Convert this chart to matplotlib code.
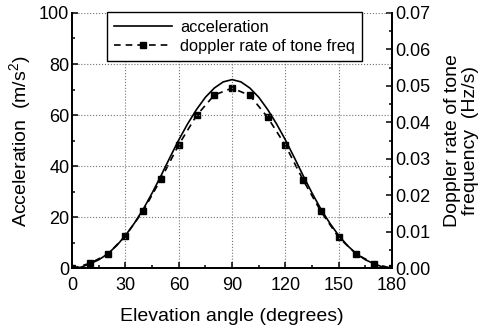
import numpy as np
import matplotlib
matplotlib.use('Agg')
import matplotlib.pyplot as plt
from matplotlib.ticker import MultipleLocator

plt.rcParams['font.family'] = ['Liberation Sans', 'DejaVu Sans']
plt.rcParams['mathtext.fontset'] = 'custom'
plt.rcParams['mathtext.rm'] = 'Liberation Sans'

# acceleration curve (m/s^2), read every 5 degrees
acc_angle = [0, 5, 10, 15, 20, 25, 30, 35, 40, 45, 50, 55, 60, 65, 70, 75, 80, 85, 90,
             95, 100, 105, 110, 115, 120, 125, 130, 135, 140, 145, 150, 155, 160, 165, 170, 175, 180]
acc = [0, 0.5, 1.8, 3.4, 5.7, 8.9, 12.9, 17.7, 23.2, 29.5, 36.3, 43.4, 50.3, 56.6, 62.2, 67.0, 70.6, 73.0, 73.9,
       73.0, 70.6, 67.0, 62.2, 56.6, 50.3, 43.4, 36.3, 29.5, 23.2, 17.7, 12.9, 8.9, 5.7, 3.4, 1.8, 0.5, 0]

# doppler rate of tone frequency (Hz/s), every 10 degrees
dop_angle = [0, 10, 20, 30, 40, 50, 60, 70, 80, 90, 100, 110, 120, 130, 140, 150, 160, 170, 180]
dop = [0, 0.0014, 0.0039, 0.0089, 0.0158, 0.0245, 0.0339, 0.0419, 0.0475, 0.0494,
       0.0474, 0.0414, 0.0337, 0.0242, 0.0156, 0.0085, 0.0039, 0.0013, 0]

fig = plt.figure(figsize=(4.81, 3.31), dpi=100)
ax = fig.add_axes([0.150, 0.189, 0.665, 0.772])
ax2 = ax.twinx()

l1, = ax.plot(acc_angle, acc, color='black', lw=1.2, label='acceleration')
l2, = ax2.plot(dop_angle, dop, color='black', lw=1.2, ls=(0, (4, 3)),
               marker='s', ms=5, label='doppler rate of tone freq')

ax.set_xlim(0, 180)
ax.set_ylim(0, 100)
ax2.set_ylim(0, 0.07)
ax.xaxis.set_major_locator(MultipleLocator(30))
ax.xaxis.set_minor_locator(MultipleLocator(15))
ax.yaxis.set_major_locator(MultipleLocator(20))
ax.yaxis.set_minor_locator(MultipleLocator(10))
ax2.yaxis.set_major_locator(MultipleLocator(0.01))
ax2.yaxis.set_minor_locator(MultipleLocator(0.005))
ax2.yaxis.set_major_formatter(matplotlib.ticker.FormatStrFormatter('%.2f'))

for a in (ax, ax2):
    a.spines['top'].set_visible(False)
    a.tick_params(which='major', direction='in', length=4, width=1.1, labelsize=13, pad=2)
    a.tick_params(which='minor', direction='in', length=2, width=1.1)
    for s in a.spines.values():
        s.set_linewidth(1.3)
ax.tick_params(axis='x', which='major', pad=6)

ax.grid(True, which='major', color='0.45', ls=':', lw=0.8)

ax.set_xlabel('Elevation angle (degrees)', fontsize=14, labelpad=10)
ax.set_ylabel('Acceleration  (m/s$^2$)', fontsize=14, labelpad=4)
ax2.set_ylabel('Doppler rate of tone\nfrequency  (Hz/s)', fontsize=14, labelpad=10,
               linespacing=1.05)

leg = ax.legend([l1, l2], ['acceleration', 'doppler rate of tone freq'],
                loc='upper left', bbox_to_anchor=(0.109, 1.002), fontsize=11.8,
                frameon=True, fancybox=False, edgecolor='black', framealpha=1,
                numpoints=1, handlelength=3.5, borderpad=0.45, labelspacing=0.25,
                handletextpad=0.5, borderaxespad=0)
leg.get_frame().set_linewidth(1.0)
ax.set_zorder(ax2.get_zorder() + 1)
ax.patch.set_visible(False)

fig.savefig('out.png', dpi=100)
